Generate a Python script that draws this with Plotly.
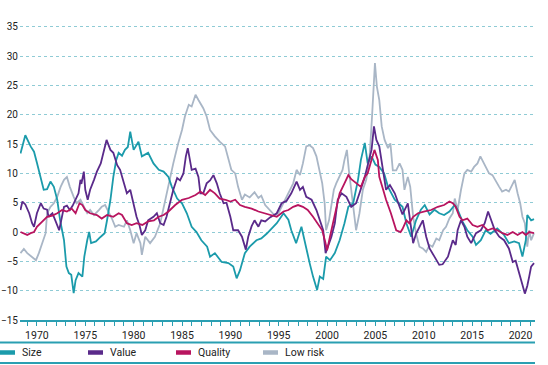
import plotly.graph_objects as go

# ---- data (fractional years, percent) ----
size_x = [1968.3, 1968.8, 1969.35, 1969.7, 1970.0, 1970.4, 1970.7, 1971.05, 1971.4, 1971.75, 1972.1, 1972.4, 1972.8,
          1973.05, 1973.3, 1973.55, 1973.8, 1974.0, 1974.3, 1974.7, 1974.9, 1975.2, 1975.4, 1975.6, 1976.1, 1976.6,
          1977.0, 1977.25, 1977.6, 1977.9, 1978.2, 1978.45, 1978.8, 1979.1, 1979.4, 1979.65, 1980.0, 1980.5, 1980.85,
          1981.5, 1982.05, 1982.6, 1983.1, 1983.6, 1983.95, 1984.5, 1985.0, 1985.5, 1986.0, 1986.5, 1987.0, 1987.6,
          1987.9, 1988.4, 1989.1, 1989.8, 1990.3, 1990.65, 1991.0, 1991.5, 1992.0, 1992.7, 1993.2, 1993.75, 1994.1,
          1994.8, 1995.5, 1996.0, 1996.3, 1996.8, 1997.35, 1997.7, 1998.2, 1998.55, 1998.97, 1999.25, 1999.6, 1999.9,
          2000.3, 2000.8, 2001.3, 2001.8, 2002.2, 2002.7, 2003.2, 2003.5, 2003.9, 2004.2, 2004.6, 2005.0, 2005.4,
          2005.9, 2006.3, 2007.0, 2007.5, 2007.8, 2008.2, 2008.7, 2009.2, 2009.7, 2010.1, 2010.6, 2011.1, 2011.6,
          2012.1, 2012.65, 2013.2, 2013.5, 2014.0, 2014.5, 2015.05, 2015.4, 2015.9, 2016.4, 2016.9, 2017.6, 2018.3,
          2018.8, 2019.35, 2019.85, 2020.2, 2020.55, 2020.7, 2020.9, 2021.1, 2021.4]
size_y = [13.4, 16.5, 14.6, 13.7, 11.8, 9.2, 7.2, 7.3, 8.6, 7.7, 5.5, 2.0, -1.4,
          -5.9, -7.0, -7.3, -10.4, -8.2, -7.0, -7.6, -4.2, -1.4, 0.0, -1.9, -1.6, -0.8,
          -0.2, 2.0, 5.5, 9.4, 12.3, 13.5, 13.0, 14.0, 14.5, 17.1, 14.0, 15.4, 12.9,
          13.5, 11.7, 10.6, 10.3, 9.4, 7.7, 5.7, 4.9, 3.2, 0.9, 0.0, -1.4, -2.5,
          -4.2, -3.6, -5.1, -5.3, -5.9, -7.9, -6.5, -3.6, -2.5, -1.4, -1.1, -0.3, 0.3,
          1.5, 3.2, 2.1, 0.3, -1.9, 0.9, -1.9, -5.3, -7.6, -9.9, -7.6, -8.0, -4.2,
          -4.8, -3.6, -1.4, 1.5, 4.3, 4.9, 8.9, 12.3, 15.2, 11.7, 12.9, 11.5, 11.1,
          10.0, 7.7, 5.5, 4.8, 4.3, 1.5, -0.8, 2.0, 3.8, 4.6, 3.0, 3.8, 3.2,
          2.9, 3.5, 4.6, 3.8, 1.8, 0.3, -0.8, -2.2, -1.4, 0.3, -0.3, 0.6, -0.5,
          -1.9, -1.6, -1.9, -4.2, -1.4, 2.9, 2.5, 2.0, 2.2]

value_x = [1968.3, 1968.5, 1968.8, 1969.2, 1969.5, 1969.7, 1970.0, 1970.4, 1970.7, 1971.05, 1971.2, 1971.6, 1971.9,
           1972.3, 1972.45, 1972.8, 1973.1, 1973.4, 1973.7, 1974.0, 1974.3, 1974.5, 1974.6, 1974.85, 1975.0, 1975.25,
           1975.5, 1975.9, 1976.2, 1976.6, 1976.9, 1977.2, 1977.6, 1977.9, 1978.3, 1978.6, 1979.0, 1979.3, 1979.65,
           1980.0, 1980.3, 1980.6, 1980.85, 1981.2, 1981.5, 1982.05, 1982.4, 1982.75, 1983.1, 1983.4, 1983.8, 1984.1,
           1984.5, 1984.8, 1985.15, 1985.4, 1985.6, 1985.8, 1986.0, 1986.4, 1986.7, 1986.9, 1987.2, 1987.55, 1987.9,
           1988.25, 1988.6, 1988.9, 1989.3, 1989.6, 1990.0, 1990.3, 1990.8, 1991.2, 1991.6, 1991.85, 1992.2, 1992.5,
           1992.9, 1993.2, 1993.6, 1994.1, 1994.8, 1995.3, 1995.8, 1996.3, 1996.85, 1997.2, 1997.5, 1997.85, 1998.4,
           1998.9, 1999.25, 1999.6, 1999.85, 2000.1, 2000.45, 2000.8, 2001.1, 2001.5, 2002.0, 2002.5, 2003.0, 2003.35,
           2003.9, 2004.2, 2004.6, 2004.85, 2005.1, 2005.4, 2005.7, 2006.1, 2006.5, 2007.0, 2007.5, 2007.8, 2008.35,
           2008.7, 2008.9, 2009.2, 2009.55, 2009.9, 2010.25, 2010.6, 2011.1, 2011.6, 2011.95, 2012.5, 2013.0, 2013.3,
           2013.5, 2013.85, 2014.2, 2014.5, 2014.9, 2015.4, 2015.9, 2016.3, 2016.65, 2017.0, 2017.35, 2017.8, 2018.3,
           2018.8, 2019.2, 2019.5, 2019.9, 2020.2, 2020.45, 2020.7, 2020.9, 2021.1, 2021.4]
value_y = [3.75, 5.2, 4.7, 3.2, 1.5, 0.9, 3.2, 4.9, 4.0, 3.8, 2.6, 3.2, 2.0,
           0.3, 1.5, 4.3, 4.5, 3.75, 4.5, 5.5, 6.6, 8.9, 8.2, 10.3, 7.2, 5.5,
           7.2, 8.9, 10.3, 11.7, 14.0, 15.7, 14.0, 13.5, 11.4, 10.6, 8.3, 6.6, 7.2,
           4.9, 2.6, 1.2, -0.5, 0.3, 2.0, 2.6, 3.2, 1.5, 1.2, 2.6, 5.5, 7.2,
           9.2, 8.8, 10.0, 12.9, 14.3, 12.3, 10.6, 10.8, 9.4, 6.6, 6.6, 8.3, 8.8,
           9.7, 8.3, 6.6, 4.9, 5.0, 2.6, 0.3, 0.3, -0.8, -3.0, -0.8, 1.0, 2.0,
           0.9, 2.0, 1.8, 2.5, 3.2, 4.9, 5.3, 6.6, 8.6, 7.2, 7.7, 6.0, 5.5,
           3.75, 2.0, 0.3, -3.6, -2.5, -0.8, 1.5, 5.5, 6.6, 6.0, 4.3, 4.9, 6.6,
           9.4, 11.4, 14.0, 18.0, 15.7, 14.6, 11.1, 7.2, 8.0, 6.6, 4.3, 3.0, 4.9,
           0.3, -1.9, -0.3, 0.9, 2.0, -0.8, -2.8, -4.2, -5.6, -5.5, -4.2, -1.4, -2.2,
           0.3, 2.0, 0.9, -0.8, -1.9, -0.2, 0.3, 1.5, 3.5, 1.8, 0.3, -0.8, -1.4,
           -2.8, -5.1, -4.9, -7.0, -9.0, -10.5, -9.2, -7.6, -5.9, -5.3]

quality_x = [1968.3, 1968.65, 1969.0, 1969.35, 1969.7, 1970.0, 1970.55, 1971.05, 1971.6, 1972.1, 1972.6, 1973.1, 1973.6,
             1974.0, 1974.4, 1974.7, 1975.0, 1975.5, 1976.2, 1976.7, 1977.25, 1977.9, 1978.45, 1978.8, 1979.3, 1979.8,
             1980.3, 1980.9, 1981.5, 1982.1, 1982.6, 1983.1, 1983.6, 1984.3, 1985.0, 1985.7, 1986.4, 1986.9, 1987.4,
             1987.9, 1988.4, 1988.9, 1989.5, 1990.0, 1990.5, 1991.0, 1991.5, 1992.2, 1992.9, 1993.5, 1994.1, 1994.8,
             1995.5, 1996.0, 1996.5, 1997.0, 1997.5, 1998.0, 1998.55, 1999.05, 1999.5, 1999.8, 2000.0, 2000.3, 2000.6,
             2000.95, 2001.3, 2001.8, 2002.2, 2002.5, 2003.0, 2003.5, 2003.9, 2004.2, 2004.6, 2004.9, 2005.25, 2005.4,
             2005.8, 2006.1, 2006.6, 2007.15, 2007.6, 2007.8, 2008.2, 2008.5, 2008.9, 2009.4, 2010.1, 2010.75, 2011.45,
             2012.1, 2012.65, 2013.0, 2013.3, 2013.7, 2014.0, 2014.5, 2015.05, 2015.55, 2016.05, 2016.6, 2017.1, 2017.6,
             2018.15, 2018.65, 2019.2, 2019.7, 2020.2, 2020.55, 2020.9, 2021.4]
quality_y = [0.0, -0.2, -0.5, -0.2, 0.0, 0.9, 1.8, 2.6, 2.8, 3.2, 3.75, 3.5, 4.0,
             3.2, 4.9, 4.6, 3.75, 3.2, 2.9, 2.3, 2.9, 2.6, 3.2, 2.9, 1.5, 1.2,
             1.5, 1.2, 1.8, 2.0, 2.6, 2.9, 3.5, 4.6, 5.5, 5.8, 6.3, 6.9, 6.3,
             7.2, 6.6, 5.7, 5.5, 5.2, 5.5, 4.6, 4.3, 4.0, 3.5, 3.2, 2.9, 2.6,
             3.5, 3.75, 4.3, 4.6, 4.3, 3.75, 2.6, 1.5, 0.3, -1.6, -3.1, -0.8, 1.5,
             4.3, 6.6, 8.3, 9.7, 9.0, 8.3, 7.7, 9.4, 10.0, 12.3, 14.0, 12.3, 9.4,
             7.2, 5.5, 3.2, 0.3, 0.0, 0.5, 2.0, 1.5, 2.6, 3.2, 3.5, 3.75, 4.3,
             4.6, 5.2, 4.9, 4.3, 2.6, 2.0, 2.3, 1.2, 0.9, 1.2, 0.3, 0.6, 0.3,
             -0.2, -0.5, 0.0, -0.5, 0.0, -0.5, 0.0, -0.2]

lowrisk_x = [1968.3, 1968.65, 1969.0, 1969.5, 1969.9, 1970.2, 1970.55, 1970.9, 1971.05, 1971.4, 1971.75, 1972.1, 1972.45,
             1972.8, 1973.1, 1973.4, 1973.8, 1974.1, 1974.5, 1974.85, 1975.2, 1975.5, 1975.9, 1976.4, 1976.7, 1977.05,
             1977.4, 1977.75, 1978.1, 1978.45, 1979.0, 1979.3, 1979.65, 1980.0, 1980.3, 1980.7, 1980.85, 1981.2, 1981.7,
             1982.2, 1982.75, 1983.1, 1983.6, 1984.1, 1984.6, 1985.0, 1985.3, 1985.7, 1986.0, 1986.4, 1986.7, 1987.2,
             1987.55, 1987.9, 1988.4, 1988.9, 1989.45, 1989.8, 1990.1, 1990.5, 1990.8, 1991.2, 1991.5, 1992.0, 1992.5,
             1992.9, 1993.2, 1993.6, 1994.1, 1994.6, 1995.0, 1995.5, 1996.0, 1996.5, 1996.85, 1997.2, 1997.5, 1997.85,
             1998.2, 1998.55, 1998.9, 1999.25, 1999.5, 1999.75, 1999.9, 2000.2, 2000.45, 2000.7, 2000.95, 2001.2, 2001.6,
             2001.8, 2002.05, 2002.25, 2002.5, 2002.75, 2003.0, 2003.35, 2003.7, 2004.05, 2004.4, 2004.65, 2004.85,
             2004.95, 2005.15, 2005.4, 2005.65, 2005.95, 2006.3, 2006.55, 2006.8, 2007.15, 2007.5, 2007.8, 2008.0,
             2008.35, 2008.6, 2008.9, 2009.2, 2009.55, 2009.9, 2010.25, 2010.6, 2010.9, 2011.3, 2011.6, 2012.0, 2012.3,
             2012.65, 2013.0, 2013.2, 2013.5, 2013.85, 2014.2, 2014.5, 2014.9, 2015.2, 2015.55, 2015.85, 2016.05, 2016.4,
             2016.75, 2017.1, 2017.45, 2017.8, 2018.1, 2018.5, 2018.8, 2019.2, 2019.4, 2019.7, 2019.97, 2020.2, 2020.45,
             2020.7, 2020.9, 2021.1, 2021.4]
lowrisk_y = [-3.6, -2.9, -3.6, -4.2, -4.8, -3.6, -1.9, -0.2, 3.2, 4.3, 4.9, 6.0, 7.7,
             8.9, 9.4, 7.7, 6.0, 4.9, 5.5, 4.3, 3.2, 3.75, 2.9, 3.75, 4.3, 4.6,
             3.5, 2.3, 0.9, 1.2, 0.9, 2.0, 0.3, -1.9, -0.2, -1.9, -3.9, -0.8, -1.9,
             -0.8, 1.5, 4.3, 7.7, 11.7, 15.1, 17.4, 19.7, 21.7, 21.4, 23.4, 22.5, 21.1,
             19.7, 17.4, 16.3, 15.4, 14.6, 12.3, 10.6, 10.0, 7.7, 5.5, 6.4, 5.9, 6.8,
             5.8, 6.2, 4.6, 3.6, 2.8, 3.3, 4.9, 6.6, 8.3, 10.6, 9.7, 11.7, 14.6,
             14.8, 14.3, 12.9, 10.0, 8.3, 4.9, 0.3, 2.0, 4.3, 7.2, 8.3, 9.1, 10.6,
             12.3, 14.0, 10.6, 7.2, 3.75, 0.3, 3.2, 7.2, 8.9, 12.9, 19.7, 25.4,
             28.8, 24.8, 22.5, 18.0, 15.7, 14.3, 15.1, 10.5, 10.5, 11.7, 10.6, 7.2,
             9.4, 7.7, 2.6, -0.2, -2.5, -2.8, -3.4, -2.2, -2.5, -1.1, -1.4, 0.3, 0.9,
             2.3, 3.2, 5.7, 3.75, 7.2, 10.0, 10.6, 10.3, 11.1, 11.7, 12.9, 12.3, 11.1,
             10.0, 9.7, 8.6, 7.7, 6.9, 7.2, 6.9, 8.3, 8.9, 6.6, 4.9, 2.6, 1.5,
             -2.5, 0.3, -1.4, -0.2]

series_names = ["Size", "Value", "Quality", "Low risk"]
series_colors = ["#1b9bab", "#5a2a8a", "#b8145f", "#a9b6c6"]
year_ticks = [1970, 1975, 1980, 1985, 1990, 1995, 2000, 2005, 2010, 2015, 2020]
y_ticks = [-15, -10, -5, 0, 5, 10, 15, 20, 25, 30, 35]

TEAL = "#2a9fb2"
GRID = "#8fcbd5"
FONT = "Roboto"

fig = go.Figure()
data = {
    "Size": (size_x, size_y),
    "Value": (value_x, value_y),
    "Quality": (quality_x, quality_y),
    "Low risk": (lowrisk_x, lowrisk_y),
}
color_of = dict(zip(series_names, series_colors))
for name in ["Low risk", "Size", "Value", "Quality"]:
    xs, ys = data[name]
    fig.add_trace(go.Scatter(x=xs, y=ys, mode="lines", name=name, showlegend=False,
                             line=dict(color=color_of[name], width=1.8)))

W, H = 548, 365
ML, MR, MT, MB = 20, 13, 15, 45
pw, ph = W - ML - MR, H - MT - MB

def px(x):
    return (x - ML) / pw

def py(y):
    return (H - MB - y) / ph

shapes = []
annotations = []
# legend rules
for yy in (342.5, 363):
    shapes.append(dict(type="line", xref="paper", yref="paper", x0=px(0), x1=px(535), y0=py(yy), y1=py(yy),
                       line=dict(color=TEAL, width=2)))
leg_swatch_x = [0, 88, 176, 263]
for i, name in enumerate(series_names):
    x0 = leg_swatch_x[i]
    shapes.append(dict(type="line", xref="paper", yref="paper", x0=px(x0), x1=px(x0 + 15), y0=py(352.5), y1=py(352.5),
                       line=dict(color=series_colors[i], width=4.5)))
    annotations.append(dict(text=name, xref="paper", yref="paper", x=px(x0 + 20), y=py(352.5), xanchor="left",
                            yanchor="middle", showarrow=False, font=dict(family=FONT, size=10.5, color="#222")))

fig.update_layout(
    width=W, height=H,
    margin=dict(l=ML, r=MR, t=MT, b=MB, autoexpand=False),
    paper_bgcolor="white", plot_bgcolor="white",
    font=dict(family=FONT, size=10.5, color="#222"),
    shapes=shapes, annotations=annotations,
    showlegend=False,
    xaxis=dict(range=[1968.25, 2021.5], tickvals=year_ticks, ticks="outside", ticklen=4, tickwidth=1,
               tickcolor=TEAL, showline=True, linecolor=TEAL, linewidth=2, showgrid=False, zeroline=False,
               automargin=False,
               minor=dict(dtick=1, tick0=1970, ticks="outside", ticklen=4, tickcolor=TEAL, tickwidth=1),
               tickfont=dict(family=FONT, size=10.5, color="#222")),
    yaxis=dict(range=[-15, 37], tickvals=y_ticks, showgrid=True, gridcolor=GRID, griddash="3px,3px",
               gridwidth=1, zeroline=False, showline=False, ticks="", ticklabelstandoff=1, automargin=False,
               tickfont=dict(family=FONT, size=10, color="#222")),
)

fig.write_html("out.html", config={"displayModeBar": False},
               post_script="document.body.style.margin='0';document.body.style.overflow='hidden';")
